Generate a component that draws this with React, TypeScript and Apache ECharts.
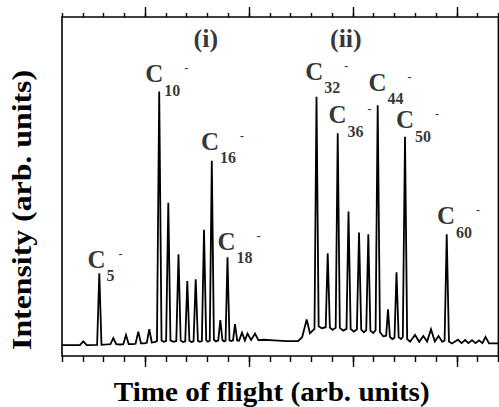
import React, { useEffect, useRef } from "react";
import * as echarts from "echarts";

// Time-of-flight trace (arb. units): x = time of flight, y = intensity
const traceTime: number[] = [
  0, 8.6, 10.25, 11.9, 16.9, 17.95, 19.0, 21.5,
  23.3, 24.69, 26.1, 28.0,
  29.5, 30.8, 32.1, 34.0,
  35.4, 36.72, 38.0, 39.6,
  40.8, 42.01, 43.2, 44.5,
  45.7, 46.78, 47.9, 49.0,
  50.1, 51.15, 52.2, 53.6,
  55.0, 56.06, 57.1, 58.2,
  59.3, 60.3, 61.3, 62.3,
  63.3, 64.34, 65.4, 66.3,
  67.3, 68.34, 69.4, 70.2,
  71.1, 72.09, 73.1, 74.1,
  75.2, 76.18, 77.2, 78.0,
  78.7, 79.64, 80.6, 81.5,
  82.3, 83.25, 84.3, 85.2,
  86.62, 88.0,
  89.27, 91.0,
  92.88, 94.5,
  97, 102, 108, 113.6,
  115.6, 117.76, 119.3,
  121.5, 122.47, 123.5, 125.0,
  126.9, 127.86, 128.9, 130.2,
  131.7, 132.68, 133.7, 135.3,
  136.9, 137.87, 138.9, 140.4,
  141.9, 142.93, 144.0, 145.2,
  146.4, 147.4, 148.4, 149.8,
  150.9, 151.92, 153.0, 154.6,
  156.0, 156.88, 157.8, 159.0,
  160.0, 160.97, 162.0, 163.2,
  164.0, 165.06, 166.1, 167.5,
  169.87, 171.9, 173.87, 175.7, 177.57, 179.4, 181.18, 183.0,
  184.1, 185.13, 186.2, 187.6,
  190.57, 192.3, 193.94, 195.6, 197.31, 199.0, 200.67, 202.3, 203.8, 205.5, 210,
];
const traceIntensity: number[] = [
  3.2, 3.2, 4.3, 3.2, 3.3, 24.4, 3.3, 3.4,
  3.5, 5.3, 3.5, 3.4,
  3.5, 6.2, 3.5, 3.5,
  3.6, 7.2, 3.7, 3.7,
  3.9, 7.9, 4.0, 4.1,
  4.4, 78.0, 4.6, 4.2,
  4.4, 45.2, 4.6, 4.2,
  4.4, 30.0, 4.6, 4.1,
  4.3, 22.1, 4.5, 4.1,
  4.3, 22.6, 4.5, 4.2,
  4.4, 37.2, 4.6, 4.2,
  4.5, 57.6, 4.8, 4.3,
  4.6, 10.6, 4.7, 4.3,
  4.5, 29.1, 4.6, 4.4,
  4.6, 9.4, 4.6, 4.5,
  6.9, 4.6,
  6.6, 4.7,
  6.6, 4.7,
  4.8, 4.6, 4.4, 4.4,
  5.6, 10.8, 6.7,
  8.0, 76.5, 8.8, 8.2,
  8.5, 30.3, 8.4, 7.7,
  8.3, 65.7, 8.3, 7.5,
  8.0, 42.6, 8.0, 7.2,
  7.8, 36.4, 7.8, 7.0,
  7.6, 35.9, 7.5, 6.8,
  7.6, 74.0, 7.0, 5.8,
  6.0, 13.8, 5.6, 5.0,
  5.4, 24.7, 5.5, 5.0,
  5.6, 64.7, 5.0, 4.2,
  6.2, 4.2, 5.9, 4.3, 7.9, 4.3, 5.9, 4.2,
  4.6, 35.9, 4.3, 3.7,
  4.8, 3.8, 4.7, 3.8, 4.7, 3.8, 4.6, 3.8, 5.6, 3.7, 3.7,
];

// Cluster labels C_n^- (anchor = top-left of label, in data units)
const clusterSizes: string[] = ["5", "10", "16", "18", "32", "36", "44", "50", "60"];
const clusterLabelTime: number[] = [12.27, 40.04, 66.84, 74.83, 117.04, 128.25, 147.5, 160.68, 180.41];
const clusterLabelIntensity: number[] = [32.27, 87.02, 67.08, 37.49, 87.64, 74.84, 84.4, 73.4, 45.04];

// Region markers
const regionNames: string[] = ["(i)", "(ii)"];
const regionTime: number[] = [69.2, 136.6];
const regionIntensity: number[] = [93.8, 93.8];

// Axis ticks
const minorTickStep = 10;
const majorTickValues: number[] = [40, 90, 140, 190];
const xMin = 0;
const xMax = 210;
const yMin = 0;
const yMax = 100;

const FONT = "'Liberation Serif', 'Times New Roman', serif";

export default function App() {
  const ref = useRef<HTMLDivElement>(null);

  useEffect(() => {
    if (!ref.current) return;
    const chart = echarts.init(ref.current, undefined, { renderer: "svg" });

    const traceData = traceTime.map((t, i) => [t, traceIntensity[i]]);
    const labelData = clusterSizes.map((n, i) => [clusterLabelTime[i], clusterLabelIntensity[i], n]);
    const regionData = regionNames.map((n, i) => [regionTime[i], regionIntensity[i], n]);

    const tickLine = { color: "#000", width: 1.4 };
    const baseX = (position: string, len: number, major: boolean) => ({
      type: "value",
      min: xMin,
      max: xMax,
      position,
      ...(major ? {} : { interval: minorTickStep }),
      axisLine: { show: false, onZero: false },
      axisTick: major
        ? { show: true, inside: false, length: len, customValues: majorTickValues, lineStyle: tickLine }
        : { show: true, inside: false, length: len, lineStyle: tickLine },
      axisLabel: major ? { show: false, customValues: majorTickValues } : { show: false },
      splitLine: { show: false },
    });

    chart.setOption({
      animation: false,
      backgroundColor: "#fff",
      grid: {
        left: 62,
        right: 0.6,
        top: 17,
        bottom: 51,
        show: true,
        borderColor: "#000",
        borderWidth: 1.6,
        backgroundColor: "transparent",
      },
      xAxis: [
        baseX("bottom", 6, false),
        baseX("bottom", 11, true),
        baseX("top", 4, false),
        baseX("top", 10, true),
      ],
      yAxis: {
        type: "value",
        min: yMin,
        max: yMax,
        axisLine: { show: false },
        axisTick: { show: false },
        axisLabel: { show: false },
        splitLine: { show: false },
      },
      graphic: [
        {
          type: "text",
          x: 271.7,
          y: 392,
          scaleX: 1.1,
          style: {
            text: "Time of flight (arb. units)",
            font: `bold 26.5px ${FONT}`,
            fill: "#000",
            align: "center",
            verticalAlign: "middle",
          },
        },
        {
          type: "text",
          x: 22,
          y: 210,
          rotation: Math.PI / 2,
          scaleX: 1.2,
          style: {
            text: "Intensity (arb. units)",
            font: `bold 26.5px ${FONT}`,
            fill: "#000",
            align: "center",
            verticalAlign: "middle",
          },
        },
      ],
      series: [
        {
          type: "line",
          data: traceData,
          xAxisIndex: 0,
          yAxisIndex: 0,
          symbol: "none",
          showSymbol: false,
          lineStyle: { color: "#000", width: 1.8, join: "miter" },
          silent: true,
          z: 2,
        },
        {
          type: "scatter",
          data: labelData,
          xAxisIndex: 0,
          yAxisIndex: 0,
          symbolSize: 0,
          silent: true,
          label: {
            show: true,
            position: [0, 0],
            align: "left",
            verticalAlign: "top",
            fontFamily: FONT,
            fontWeight: "bold",
            color: "#000",
            formatter: (p: any) => `{c|C}{s|${p.data[2]}}{m|-}`,
            rich: {
              c: { fontFamily: FONT, fontWeight: "bold", fontSize: 25, lineHeight: 24, color: "#000", verticalAlign: "top", padding: [0, 0, 0, 0] },
              s: { fontFamily: FONT, fontWeight: "bold", fontSize: 16, lineHeight: 13, color: "#000", verticalAlign: "top", padding: [21, 0, 0, 1] },
              m: { fontFamily: FONT, fontWeight: "bold", fontSize: 12, lineHeight: 10, color: "#000", verticalAlign: "top", padding: [1, 0, 0, 4] },
            },
          },
          z: 3,
        },
        {
          type: "scatter",
          data: regionData,
          xAxisIndex: 0,
          yAxisIndex: 0,
          symbolSize: 0,
          silent: true,
          label: {
            show: true,
            position: "inside",
            formatter: (p: any) => p.data[2],
            fontFamily: FONT,
            fontWeight: "bold",
            fontSize: 26,
            color: "#000",
          },
          z: 3,
        },
      ],
    });

    return () => chart.dispose();
  }, []);

  return (
    <div
      ref={ref}
      style={{ position: "fixed", left: 0, top: 0, width: 499, height: 407, background: "#fff" }}
    />
  );
}
